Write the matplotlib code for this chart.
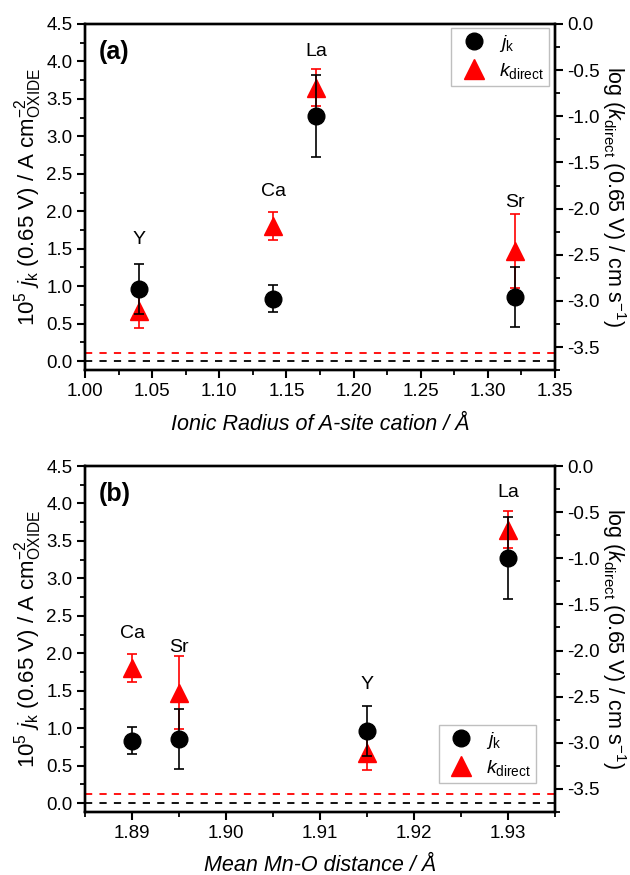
import numpy as np
import matplotlib
matplotlib.use('Agg')
import matplotlib.pyplot as plt
from matplotlib.lines import Line2D
from matplotlib.ticker import MultipleLocator, FormatStrFormatter

plt.rcParams['font.family'] = ['Liberation Sans', 'DejaVu Sans']
plt.rcParams['mathtext.fontset'] = 'custom'
plt.rcParams['mathtext.rm'] = 'Liberation Sans'
plt.rcParams['mathtext.it'] = 'Liberation Sans:italic'
plt.rcParams['axes.unicode_minus'] = False

# cations in order Y, Ca, La, Sr
cations = ['Y', 'Ca', 'La', 'Sr']
ionic_radius = [1.04, 1.14, 1.172, 1.32]
mn_o_dist = [1.915, 1.89, 1.93, 1.895]
jk = [0.96, 0.83, 3.27, 0.85]
jk_err = [0.33, 0.18, 0.55, 0.40]
log_kdirect = [-3.11, -2.19, -0.69, -2.455]
log_kdirect_err = [0.18, 0.15, 0.20, 0.40]
jk_limit = 0.0
kdirect_limit = -3.56

# label heights (left axis units) for each panel
label_y_a = [1.62, 2.26, 4.13, 2.12]
label_y_b = [1.58, 2.27, 4.14, 2.07]

fig = plt.figure(figsize=(6.3, 8.75), dpi=100)
ax_a = fig.add_axes([0.135, 0.577, 0.746, 0.3956])
ax_b = fig.add_axes([0.135, 0.072, 0.746, 0.3954])


def panel(ax, x, xlim, major, minor, xlabel, tag, label_y, leg_loc, leg_anchor):
    ax2 = ax.twinx()
    ax.axhline(jk_limit, color='black', ls=(0, (4, 4)), lw=1.3, zorder=1)
    ax2.axhline(kdirect_limit, color='red', ls=(0, (4, 4)), lw=1.3, zorder=1)
    ax2.errorbar(x, log_kdirect, yerr=log_kdirect_err, fmt='^', color='red',
                 ms=13, ecolor='red', elinewidth=1.2, capsize=3.5, capthick=1.2,
                 zorder=3)
    # j_k on the left axis, drawn above the red markers
    ax.set_zorder(ax2.get_zorder() + 1)
    ax.patch.set_visible(False)
    ax.errorbar(x, jk, yerr=jk_err, fmt='o', color='black', ms=12,
                ecolor='black', elinewidth=1.2, capsize=3.5, capthick=1.2,
                zorder=3)
    for name, xi, yi in zip(cations, x, label_y):
        ax.text(xi, yi, name, ha='center', va='center', fontsize=14)

    ax.set_xlim(*xlim)
    ax.set_ylim(-0.12, 4.5)
    ax2.set_ylim(-3.75, 0.0)
    ax.xaxis.set_major_locator(MultipleLocator(major))
    ax.xaxis.set_minor_locator(MultipleLocator(minor))
    ax.yaxis.set_major_locator(MultipleLocator(0.5))
    ax.yaxis.set_minor_locator(MultipleLocator(0.25))
    ax2.yaxis.set_major_locator(MultipleLocator(0.5))
    ax2.yaxis.set_minor_locator(MultipleLocator(0.25))
    ax.xaxis.set_major_formatter(FormatStrFormatter('%.2f'))
    ax.yaxis.set_major_formatter(FormatStrFormatter('%.1f'))
    ax2.yaxis.set_major_formatter(FormatStrFormatter('%.1f'))

    for a in (ax, ax2):
        for s in a.spines.values():
            s.set_linewidth(1.7)
        a.tick_params(which='major', direction='out', length=6, width=1.5,
                      labelsize=13.5, pad=3)
        a.tick_params(which='minor', direction='out', length=3.5, width=1.3)
    ax.tick_params(axis='x', which='both', top=False)
    ax.tick_params(axis='y', which='both', right=False)

    ax.set_xlabel(xlabel, fontsize=15.5, style='italic', labelpad=10)
    ax.set_ylabel(r'10$^5$ $j_\mathrm{k}$ (0.65 V) / A cm$^{-2}_\mathrm{OXIDE}$',
                  fontsize=16, labelpad=2)
    ax2.set_ylabel(r'log ($k_\mathrm{direct}$ (0.65 V) / cm s$^{-1}$)',
                   fontsize=15.5, rotation=270, labelpad=20)
    ax.text(0.03, 0.955, tag, transform=ax.transAxes, fontsize=18,
            fontweight='bold', ha='left', va='top')

    handles = [Line2D([], [], ls='none', marker='o', color='black', ms=12),
               Line2D([], [], ls='none', marker='^', color='red', ms=14)]
    leg = ax.legend(handles, [r'$j_\mathrm{k}$', r'$k_\mathrm{direct}$'],
                    loc=leg_loc, bbox_to_anchor=leg_anchor, fontsize=14,
                    frameon=True, fancybox=False, edgecolor='#b0b0b0',
                    handletextpad=0.4, borderpad=0.25, labelspacing=0.35,
                    handlelength=1.8, borderaxespad=0.0)
    leg.get_frame().set_linewidth(1.0)
    return ax2


panel(ax_a, ionic_radius, (1.00, 1.35), 0.05, 0.025,
      'Ionic Radius of A-site cation / Å', '(a)', label_y_a,
      'upper right', (0.987, 0.988))
panel(ax_b, mn_o_dist, (1.885, 1.935), 0.01, 0.005,
      'Mean Mn-O distance / Å', '(b)', label_y_b,
      'lower right', (0.96, 0.084))

fig.savefig('out.png', dpi=100)
